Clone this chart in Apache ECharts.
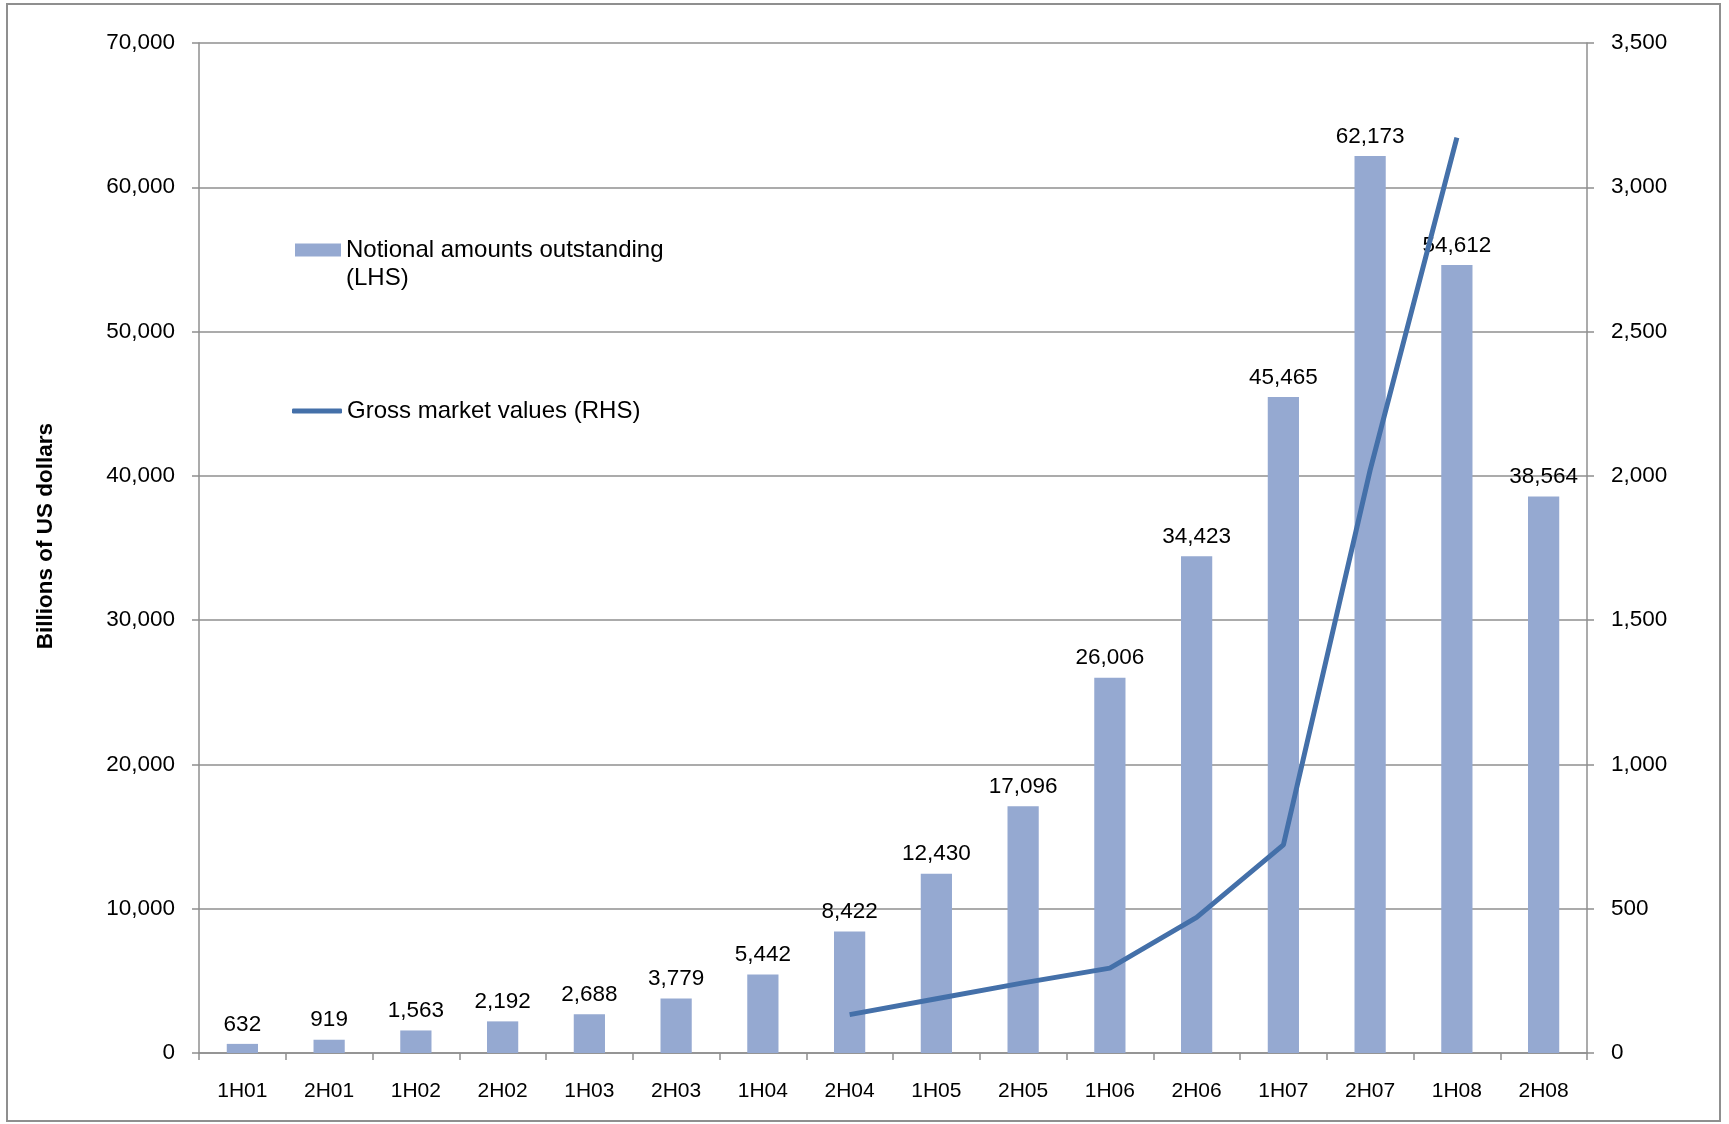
<!DOCTYPE html>
<html>
<head>
<meta charset="utf-8">
<script src="https://cdn.jsdelivr.net/npm/echarts@6/dist/echarts.min.js"></script>
<style>
html,body{margin:0;padding:0;background:#fff;}
#chart{width:1729px;height:1124px;}
</style>
</head>
<body>
<div id="chart"></div>
<script>
var categories = ['1H01','2H01','1H02','2H02','1H03','2H03','1H04','2H04','1H05','2H05','1H06','2H06','1H07','2H07','1H08','2H08'];
var notionalValues = [632, 919, 1563, 2192, 2688, 3779, 5442, 8422, 12430, 17096, 26006, 34423, 45465, 62173, 54612, 38564];
var grossValues = [null, null, null, null, null, null, null, 133, 188, 243, 294, 470, 721, 2020, 3172, null];
var leftTicks = {min: 0, max: 70000, interval: 10000};
var rightTicks = {min: 0, max: 3500, interval: 500};

var FONT = 'Liberation Sans, Arial, sans-serif';
var fmt = function (v) { return Number(v).toLocaleString('en-US'); };
var gridColor = '#8f8f8f';

var chart = echarts.init(document.getElementById('chart'), null, {renderer: 'canvas'});
chart.setOption({
  animation: false,
  backgroundColor: '#ffffff',
  textStyle: {fontFamily: FONT},
  graphic: [{
    type: 'rect',
    shape: {x: 7, y: 4, width: 1713, height: 1117},
    style: {fill: 'none', stroke: '#8f8f8f', lineWidth: 2},
    silent: true
  }],
  grid: {left: 199, top: 43, right: 142, bottom: 71, containLabel: false},
  legend: [{
    data: ['Notional amounts outstanding (LHS)'],
    formatter: function () { return '\u00a0\nNotional amounts outstanding\n(LHS)'; },
    left: 290, top: 203,
    orient: 'vertical',
    itemWidth: 46, itemHeight: 13,
    icon: 'rect',
    textStyle: {fontFamily: FONT, fontSize: 24, color: '#000', lineHeight: 28},
    selectedMode: false
  }, {
    data: ['Gross market values (RHS)'],
    left: 287, top: 392,
    itemWidth: 50, itemHeight: 5,
    icon: 'roundRect',
    textStyle: {fontFamily: FONT, fontSize: 24, color: '#000', lineHeight: 28},
    selectedMode: false
  }],
  xAxis: {
    type: 'category',
    data: categories,
    boundaryGap: true,
    axisLine: {lineStyle: {color: gridColor, width: 1.5}},
    axisTick: {show: true, inside: false, length: 7, alignWithLabel: false, lineStyle: {color: gridColor, width: 1.5}},
    axisLabel: {fontFamily: FONT, fontSize: 21, color: '#000', margin: 28, interval: 0}
  },
  yAxis: [{
    type: 'value',
    min: leftTicks.min, max: leftTicks.max, interval: leftTicks.interval,
    name: 'Billions of US dollars',
    nameLocation: 'middle',
    nameGap: 142,
    nameRotate: 90,
    nameTextStyle: {fontFamily: FONT, fontSize: 22.5, fontWeight: 'bold', color: '#000', padding: [0, 0, 0, 24]},
    axisLine: {show: true, lineStyle: {color: gridColor, width: 1.5}},
    axisTick: {show: true, inside: false, length: 7, lineStyle: {color: gridColor, width: 1.5}},
    axisLabel: {fontFamily: FONT, fontSize: 22.5, color: '#000', margin: 24, formatter: fmt},
    splitLine: {show: true, lineStyle: {color: gridColor, width: 1.5}}
  }, {
    type: 'value',
    position: 'right',
    min: rightTicks.min, max: rightTicks.max, interval: rightTicks.interval,
    axisLine: {show: true, lineStyle: {color: gridColor, width: 1.5}},
    axisTick: {show: true, inside: false, length: 7, lineStyle: {color: gridColor, width: 1.5}},
    axisLabel: {fontFamily: FONT, fontSize: 22.5, color: '#000', margin: 24, formatter: fmt},
    splitLine: {show: false}
  }],
  series: [{
    name: 'Notional amounts outstanding (LHS)',
    type: 'bar',
    yAxisIndex: 0,
    data: notionalValues,
    barWidth: '36%',
    itemStyle: {color: '#95a9d1'},
    label: {show: true, position: 'top', distance: 8, fontFamily: FONT, fontSize: 22.5, color: '#000', formatter: function (p) { return fmt(p.value); }},
    z: 2
  }, {
    name: 'Gross market values (RHS)',
    type: 'line',
    yAxisIndex: 1,
    data: grossValues,
    symbol: 'none',
    connectNulls: false,
    lineStyle: {color: '#4470a9', width: 5},
    itemStyle: {color: '#4470a9'},
    z: 3
  }]
});
</script>
</body>
</html>
